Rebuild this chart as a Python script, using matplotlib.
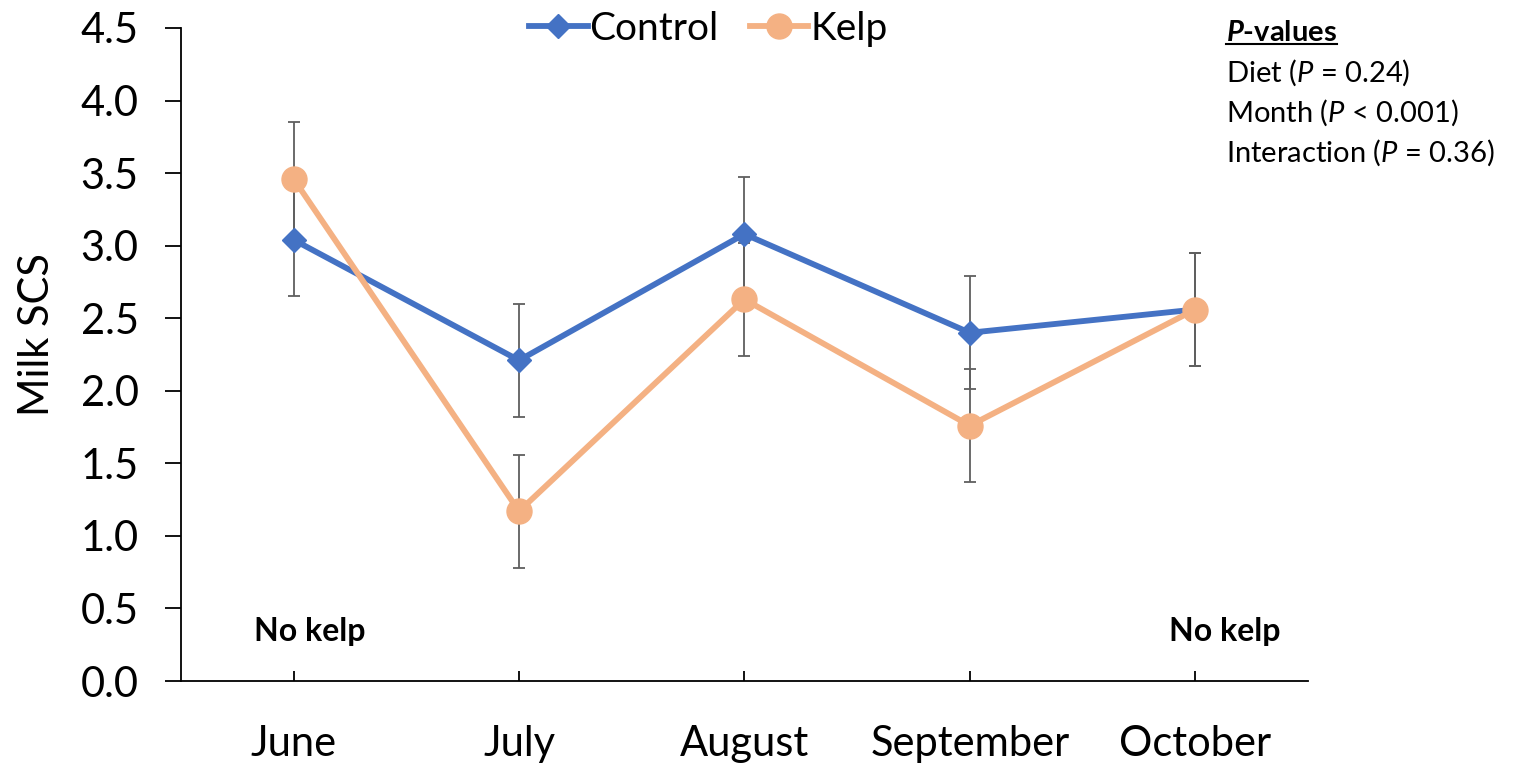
import matplotlib.pyplot as plt

plt.rcParams['font.family'] = ['Lato', 'DejaVu Sans']
plt.rcParams['mathtext.fontset'] = 'custom'
plt.rcParams['mathtext.rm'] = 'Lato'
plt.rcParams['mathtext.it'] = 'Lato:italic'
plt.rcParams['mathtext.bf'] = 'Lato:bold'
plt.rcParams['mathtext.bfit'] = 'Lato:bold:italic'

# Data
months = ['June', 'July', 'August', 'September', 'October']
control = [3.04, 2.21, 3.08, 2.40, 2.56]
kelp = [3.46, 1.17, 2.63, 1.76, 2.56]
control_se = [0.39, 0.39, 0.39, 0.39, 0.39]
kelp_se = [0.39, 0.39, 0.39, 0.39, 0.39]
pvalue_lines = ['Diet ($P$ = 0.24)', 'Month ($P$ < 0.001)', 'Interaction ($P$ = 0.36)']

blue = '#4472C4'
orange = '#F4B183'
err_col = '#5F5F5F'

fig = plt.figure(figsize=(15.27, 7.67), dpi=100)
ax = fig.add_axes([0.1185, 0.1121, 0.7380, 0.8514])

x = list(range(len(months)))

# error bars behind the lines
ax.errorbar(x, control, yerr=control_se, fmt='none', ecolor=err_col,
            elinewidth=1.3, capsize=4.5, capthick=1.3, zorder=1)
ax.errorbar(x, kelp, yerr=kelp_se, fmt='none', ecolor=err_col,
            elinewidth=1.3, capsize=4.5, capthick=1.3, zorder=1)

ax.plot(x, control, color=blue, lw=4.2, marker='D', markersize=12,
        label='Control', zorder=3)
ax.plot(x, kelp, color=orange, lw=4.2, marker='o', markersize=18,
        label='Kelp', zorder=4)

ax.set_xlim(-0.5, 4.5)
ax.set_ylim(0, 4.5)
ax.set_yticks([i * 0.5 for i in range(10)])
ax.set_yticklabels([f'{i * 0.5:.1f}' for i in range(10)])
ax.set_xticks(x)
ax.set_xticklabels(months)

ax.spines['top'].set_visible(False)
ax.spines['right'].set_visible(False)
ax.spines['left'].set_linewidth(1.3)
ax.spines['bottom'].set_linewidth(1.3)
ax.tick_params(axis='y', direction='out', length=11.5, width=1.3, labelsize=30, pad=19)
ax.tick_params(axis='x', direction='in', length=7, width=1.3, labelsize=30, pad=32)

ax.set_ylabel('Milk SCS', fontsize=30)
ax.yaxis.set_label_coords(-0.111, 0.531)

ax.legend(loc='upper center', bbox_to_anchor=(0.468, 1.05), ncol=2, frameon=False,
          fontsize=28, handlelength=1.5, handletextpad=0.05, columnspacing=0.8,
          borderaxespad=0)

ax.text(0.07, 0.34, 'No kelp', fontsize=23, fontweight='bold', ha='center', va='center')
ax.text(4.13, 0.34, 'No kelp', fontsize=23, fontweight='bold', ha='center', va='center')

# P-value box
head = fig.text(1226 / 1527, 1 - 33 / 767, r'$\mathbfit{P}$-values', fontsize=21,
                fontweight='bold', ha='left', va='center')
for i, line in enumerate(pvalue_lines):
    fig.text(1226 / 1527, 1 - (73 + 40 * i) / 767, line, fontsize=21,
             ha='left', va='center')

fig.canvas.draw()
bb = head.get_window_extent().transformed(fig.transFigure.inverted())
fig.add_artist(plt.Line2D([bb.x0, bb.x1], [bb.y0 + 0.002, bb.y0 + 0.002],
                          transform=fig.transFigure, color='black', lw=1.5))

fig.savefig('out.png', dpi=100)
